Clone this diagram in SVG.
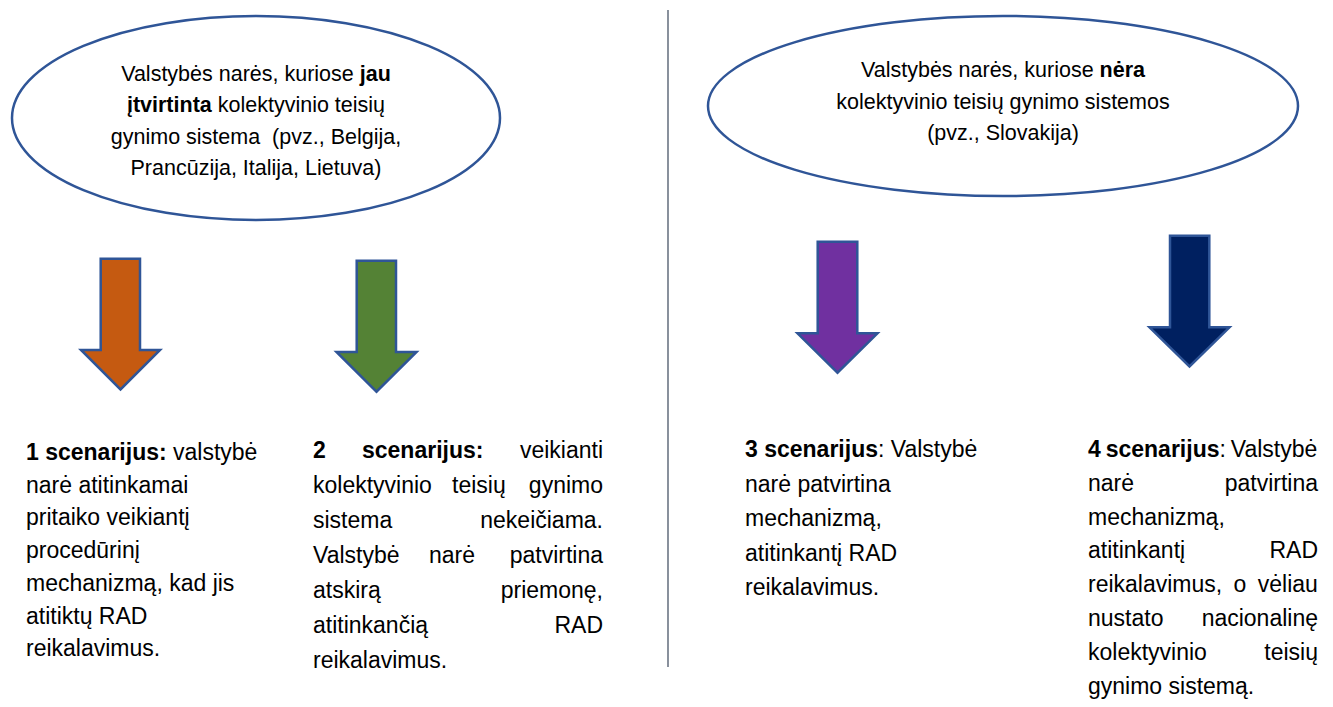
<svg xmlns="http://www.w3.org/2000/svg" width="1333" height="707" viewBox="0 0 1333 707">
<style>
  .bg { fill: #ffffff; }
  .ell { fill: #ffffff; stroke: #2f5597; stroke-width: 2.5; }
  .arr { stroke: #2f5597; stroke-width: 2.5; stroke-linejoin: miter; }
  .t { font-family: "Liberation Sans", Arial, sans-serif; fill: #000000; }
  .te { font-size: 21.5px; text-anchor: middle; }
  .tb { font-size: 23px; }
  .b { font-weight: bold; }
  .end { text-anchor: end; }
  .div { stroke: #4a5568; stroke-width: 1.3; }
</style>
<rect class="bg" x="0" y="0" width="1333" height="707"/>
<line class="div" x1="668" y1="10" x2="668" y2="667"/>

<g id="node-left-ellipse">
  <ellipse class="ell" cx="256" cy="118" rx="244" ry="102"/>
  <text class="t te" x="256" y="81">Valstybės narės, kuriose <tspan class="b">jau</tspan></text>
  <text class="t te" x="256" y="112.3"><tspan class="b">įtvirtinta</tspan> kolektyvinio teisių</text>
  <text class="t te" x="256" y="143.6" xml:space="preserve">gynimo sistema  (pvz., Belgija,</text>
  <text class="t te" x="256" y="175">Prancūzija, Italija, Lietuva)</text>
</g>

<g id="node-right-ellipse">
  <ellipse class="ell" cx="1003" cy="106" rx="295" ry="90"/>
  <text class="t te" x="1003" y="77">Valstybės narės, kuriose <tspan class="b">nėra</tspan></text>
  <text class="t te" x="1003" y="108.5">kolektyvinio teisių gynimo sistemos</text>
  <text class="t te" x="1003" y="140">(pvz., Slovakija)</text>
</g>

<g id="connectors">
  <polygon class="arr" fill="#c55a11" points="100.7,258.7 140,258.7 140,350 160,350 120.5,389.5 81,350 100.7,350"/>
  <polygon class="arr" fill="#548235" points="356.7,260.7 396,260.7 396,352 416.5,352 376.5,391.7 336.5,352 356.7,352"/>
  <polygon class="arr" fill="#7030a0" points="817.7,241.7 857.3,241.7 857.3,333.3 877.5,333.3 837.5,372.7 797.5,333.3 817.7,333.3"/>
  <polygon class="arr" fill="#002060" points="1170,235.7 1209.3,235.7 1209.3,327.3 1229.5,327.3 1189.5,366.5 1149.5,327.3 1170,327.3"/>
</g>

<g id="node-scenario-1">
  <text class="t tb" x="26" y="460"><tspan class="b">1 scenarijus:</tspan> valstybė</text>
  <text class="t tb" x="26" y="492.7">narė atitinkamai</text>
  <text class="t tb" x="26" y="525.4">pritaiko veikiantį</text>
  <text class="t tb" x="26" y="558.1">procedūrinį</text>
  <text class="t tb" x="26" y="590.8">mechanizmą, kad jis</text>
  <text class="t tb" x="26" y="623.5">atitiktų RAD</text>
  <text class="t tb" x="26" y="656.2">reikalavimus.</text>
</g>

<g id="node-scenario-2">
  <text class="t tb b" x="313" y="458">2</text>
  <text class="t tb b" x="362" y="458">scenarijus:</text>
  <text class="t tb end" x="603" y="458">veikianti</text>
  <text class="t tb" x="313" y="493">kolektyvinio</text>
  <text class="t tb" x="452" y="493">teisių</text>
  <text class="t tb end" x="603" y="493">gynimo</text>
  <text class="t tb" x="313" y="528">sistema</text>
  <text class="t tb end" x="603" y="528">nekeičiama.</text>
  <text class="t tb" x="313" y="563">Valstybė</text>
  <text class="t tb" x="429" y="563">narė</text>
  <text class="t tb end" x="603" y="563">patvirtina</text>
  <text class="t tb" x="313" y="598">atskirą</text>
  <text class="t tb end" x="603" y="598">priemonę,</text>
  <text class="t tb" x="313" y="633">atitinkančią</text>
  <text class="t tb end" x="603" y="633">RAD</text>
  <text class="t tb" x="313" y="668">reikalavimus.</text>
</g>

<g id="node-scenario-3">
  <text class="t tb" x="745" y="457"><tspan class="b">3 scenarijus</tspan>: Valstybė</text>
  <text class="t tb" x="745" y="491.5">narė patvirtina</text>
  <text class="t tb" x="745" y="526">mechanizmą,</text>
  <text class="t tb" x="745" y="560.5">atitinkantį RAD</text>
  <text class="t tb" x="745" y="595">reikalavimus.</text>
</g>

<g id="node-scenario-4">
  <text class="t tb" x="1088" y="457" word-spacing="-1.5"><tspan class="b">4 scenarijus</tspan>: Valstybė</text>
  <text class="t tb" x="1088" y="490.8">narė</text>
  <text class="t tb end" x="1318" y="490.8">patvirtina</text>
  <text class="t tb" x="1088" y="524.6">mechanizmą,</text>
  <text class="t tb" x="1088" y="558.4">atitinkantį</text>
  <text class="t tb end" x="1318" y="558.4">RAD</text>
  <text class="t tb" x="1088" y="592.2" word-spacing="5">reikalavimus, o vėliau</text>
  <text class="t tb" x="1088" y="626">nustato</text>
  <text class="t tb end" x="1318" y="626">nacionalinę</text>
  <text class="t tb" x="1088" y="659.8">kolektyvinio</text>
  <text class="t tb end" x="1318" y="659.8">teisių</text>
  <text class="t tb" x="1088" y="693.6">gynimo sistemą.</text>
</g>
</svg>
